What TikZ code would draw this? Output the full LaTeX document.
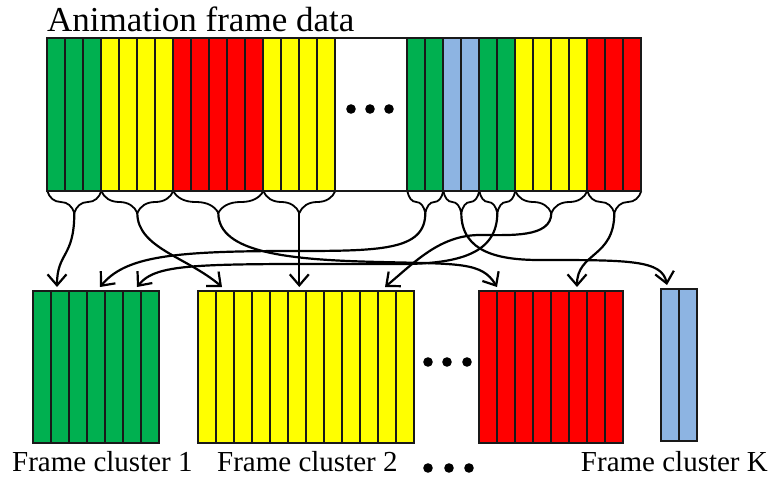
\documentclass[tikz,border=0pt]{standalone}
\usepackage{xcolor}
\usepackage{fontspec}
\setmainfont{Liberation Serif}
\usetikzlibrary{decorations.pathreplacing,arrows.meta}

\definecolor{cgreen}{RGB}{0,176,80}
\definecolor{cyellow}{RGB}{255,255,0}
\definecolor{cred}{RGB}{255,0,0}
\definecolor{cblue}{RGB}{141,180,226}

\tikzset{
  cell/.style={draw=black!90, line width=1.8pt},
  brace/.style={decorate, decoration={brace,mirror,amplitude=22pt}, line width=1.8pt},
  link/.style={line width=2.2pt, -{Straight Barb[length=11pt,width=19pt]}},
  label/.style={font=\fontsize{29}{34}\selectfont, inner sep=0pt, text depth=0pt}
}

\begin{document}
\begin{tikzpicture}[x=1pt,y=-1pt]
  \useasboundingbox (0,0) rectangle (774,477);

  \node[label, font=\fontsize{35}{40}\selectfont, anchor=base west] (title) at (47,31) {Animation frame data};

  % frame data with one brace per run
  \foreach \a/\n/\col [count=\k] in {0/3/cgreen, 3/4/cyellow, 7/5/cred, 12/4/cyellow,
      20/2/cgreen, 22/2/cblue, 24/2/cgreen, 26/4/cyellow, 30/3/cred} {
    \foreach \j in {1,...,\n}
      \draw[cell, fill=\col] ({47.3+18*(\a+\j-1)},38.3) rectangle +(18,152.4);
    \draw[brace] ({47.3+18*\a},191) -- ({47.3+18*(\a+\n)},191);
    \coordinate (b\k) at ({47.3+18*(\a+\n/2)},213);
  }
  \draw[cell] (47.3,38.3) rectangle (641.3,190.7);
  \foreach \x in {351,370,389} \fill (\x,109) circle[radius=4.8];

  % clusters
  \foreach \x/\y/\n/\col in {32.7/290.7/7/cgreen, 197.7/290.7/12/cyellow,
      479/290.7/8/cred, 661/288.7/2/cblue}
    \foreach \j in {1,...,\n}
      \draw[cell, fill=\col] ({\x+18*(\j-1)},\y) rectangle +(18,152);
  \foreach \x in {428,447,467} \fill (\x,362) circle[radius=4.8];
  \foreach \x in {428,449,469} \fill (\x,468) circle[radius=4.8];

  \node[label, anchor=base west] (fc1) at (12,471) {Frame cluster 1};
  \node[label, anchor=base west] (fc2) at (217,471) {Frame cluster 2};
  \node[label, anchor=base east] (fcK) at (768,471) {Frame cluster K};

  \coordinate (fc1a) at (57,287);
  \coordinate (fc1b) at (100,287);
  \coordinate (fc1c) at (137,287);
  \coordinate (fc2a) at (222,287);
  \coordinate (fc2b) at (299.3,287);
  \coordinate (fc2c) at (385,287);
  \coordinate (fc3a) at (497,287);
  \coordinate (fc3b) at (577,287);
  \coordinate (fcKa) at (667,285);

  \draw[link] (b1) .. controls +(0,45) and +(0,-35) .. (fc1a);
  \draw[link] (b2) .. controls +(0,35) and +(-35,-30) .. (fc2a);
  \draw[link] (b3) .. controls +(0,40) and +(-90,-2) .. (380,262) .. controls +(80,2) and +(-15,-25) .. (fc3a);
  \draw[link] (b4) -- (fc2b);
  \draw[link] (b5) .. controls +(0,38) and +(90,0) .. (290,251) .. controls +(-120,0) and +(25,-30) .. (fc1b);
  \draw[link] (b6) .. controls +(0,40) and +(-40,0) .. (540,260) .. controls +(90,0) and +(-5,-25) .. (fcKa);
  \draw[link] (b7) .. controls +(0,40) and +(60,0) .. (400,264) .. controls +(-200,0) and +(20,-25) .. (fc1c);
  \draw[link] (b8) .. controls +(0,25) and +(30,0) .. (480,235) .. controls +(-40,0) and +(30,-25) .. (fc2c);
  \draw[link] (b9) .. controls +(0,45) and +(0,-35) .. (fc3b);
\end{tikzpicture}
\end{document}
